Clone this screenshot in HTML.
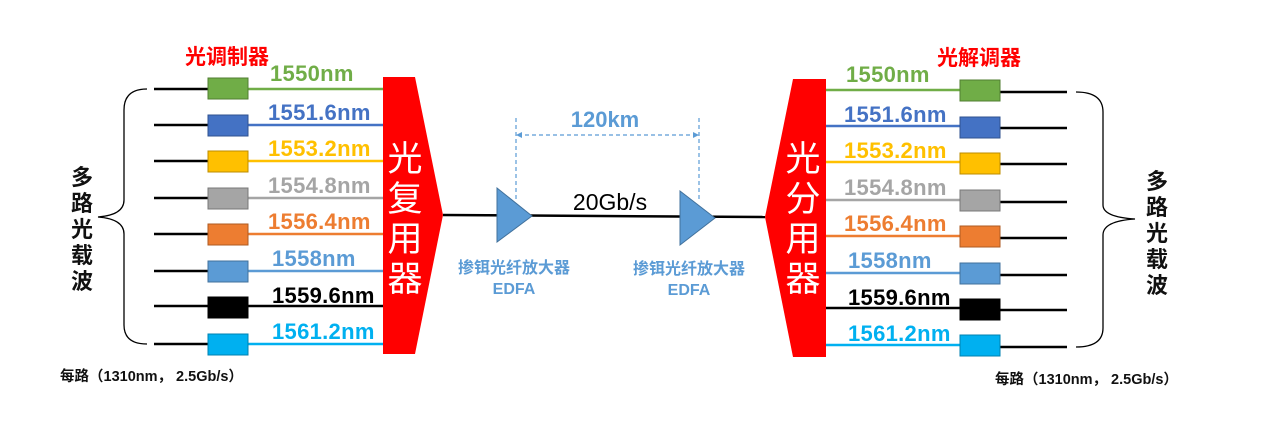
<!DOCTYPE html>
<html><head><meta charset="utf-8"><style>
html,body{margin:0;padding:0;background:#fff;width:1277px;height:429px;overflow:hidden}
svg{display:block}
.b{font-family:"Liberation Sans","Noto Sans CJK SC",sans-serif;font-weight:bold}
.c{font-family:"Noto Sans CJK SC","WenQuanYi Zen Hei",sans-serif}
</style></head><body>
<svg width="1277" height="429" viewBox="0 0 1277 429" xmlns="http://www.w3.org/2000/svg">
<!-- left side -->
<g stroke-width="2.5">
<line x1="154" y1="89" x2="208" y2="89" stroke="#000"/>
<line x1="154" y1="125" x2="208" y2="125" stroke="#000"/>
<line x1="154" y1="161" x2="208" y2="161" stroke="#000"/>
<line x1="154" y1="198" x2="208" y2="198" stroke="#000"/>
<line x1="154" y1="234" x2="208" y2="234" stroke="#000"/>
<line x1="154" y1="271" x2="208" y2="271" stroke="#000"/>
<line x1="154" y1="306" x2="208" y2="306" stroke="#000"/>
<line x1="154" y1="344" x2="208" y2="344" stroke="#000"/>
<line x1="248" y1="89" x2="384" y2="89" stroke="#70ad47"/>
<line x1="248" y1="125" x2="384" y2="125" stroke="#4472c4"/>
<line x1="248" y1="161" x2="384" y2="161" stroke="#ffc000"/>
<line x1="248" y1="198" x2="384" y2="198" stroke="#a5a5a5"/>
<line x1="248" y1="234" x2="384" y2="234" stroke="#ed7d31"/>
<line x1="248" y1="271" x2="384" y2="271" stroke="#5b9bd5"/>
<line x1="248" y1="306" x2="384" y2="306" stroke="#000"/>
<line x1="248" y1="344" x2="384" y2="344" stroke="#00b0f0"/>
</g>
<g stroke-width="1">
<rect x="208" y="78" width="40" height="21" fill="#70ad47" stroke="#507e32"/>
<rect x="208" y="115" width="40" height="21" fill="#4472c4" stroke="#2f528f"/>
<rect x="208" y="151" width="40" height="21" fill="#ffc000" stroke="#bc8c00"/>
<rect x="208" y="188" width="40" height="21" fill="#a5a5a5" stroke="#787878"/>
<rect x="208" y="224" width="40" height="21" fill="#ed7d31" stroke="#ae5a21"/>
<rect x="208" y="261" width="40" height="21" fill="#5b9bd5" stroke="#41719c"/>
<rect x="208" y="297" width="40" height="21" fill="#000" stroke="#000"/>
<rect x="208" y="334" width="40" height="21" fill="#00b0f0" stroke="#0082b0"/>
</g>
<g class="b" font-size="22" letter-spacing="0.3">
<text x="270" y="81" fill="#70ad47">1550nm</text>
<text x="268" y="120" fill="#4472c4">1551.6nm</text>
<text x="268" y="156" fill="#ffc000">1553.2nm</text>
<text x="268" y="193" fill="#a5a5a5">1554.8nm</text>
<text x="268" y="229" fill="#ed7d31">1556.4nm</text>
<text x="272" y="266" fill="#5b9bd5">1558nm</text>
<text x="272" y="303" fill="#000">1559.6nm</text>
<text x="272" y="339" fill="#00b0f0">1561.2nm</text>
</g>
<text x="185" y="64" class="b" font-size="21" fill="#ff0000">光调制器</text>
<polygon points="383,77 415,77 443,215 415,354 383,354" fill="#ff0000"/>
<g class="c" font-size="35" fill="#fff" text-anchor="middle">
<text x="405" y="171">光</text><text x="405" y="211">复</text><text x="405" y="251">用</text><text x="405" y="291">器</text>
</g>
<path d="M147,89 Q124,89 124,110 L124,200 Q124,215 98,217 Q124,219 124,234 L124,325 Q124,344 147,344" fill="none" stroke="#000" stroke-width="1.3"/>
<g class="b" font-size="22" fill="#111" text-anchor="middle">
<text x="82" y="185">多</text><text x="82" y="211">路</text><text x="82" y="237">光</text><text x="82" y="263">载</text><text x="82" y="289">波</text>
</g>
<text x="60" y="381" class="b" font-size="14.5" fill="#111">每路（1310nm， 2.5Gb/s）</text>

<!-- middle -->
<line x1="443" y1="215" x2="765" y2="217" stroke="#000" stroke-width="2.5"/>
<polygon points="497,188 532,216 497,242" fill="#5b9bd5" stroke="#41719c" stroke-width="1"/>
<polygon points="680,191 715,218 680,245" fill="#5b9bd5" stroke="#41719c" stroke-width="1"/>
<g stroke="#5b9bd5" stroke-width="1.2" stroke-dasharray="4,3" fill="none">
<line x1="516" y1="118" x2="516" y2="200"/>
<line x1="699" y1="118" x2="699" y2="200"/>
<line x1="518" y1="135" x2="697" y2="135"/>
</g>
<polygon points="516,135 522,132 522,138" fill="#5b9bd5"/>
<polygon points="699,135 693,132 693,138" fill="#5b9bd5"/>
<text x="605" y="127" class="b" font-size="22" fill="#5b9bd5" text-anchor="middle">120km</text>
<text x="610" y="210" font-family="Liberation Sans,sans-serif" font-size="23" fill="#000" text-anchor="middle">20Gb/s</text>
<g class="b" font-size="16" fill="#5b9bd5" text-anchor="middle">
<text x="514" y="273">掺铒光纤放大器</text><text x="514" y="294">EDFA</text>
<text x="689" y="274">掺铒光纤放大器</text><text x="689" y="295">EDFA</text>
</g>

<!-- right side -->
<polygon points="826,79 793,79 765,217 793,357 826,357" fill="#ff0000"/>
<g class="c" font-size="35" fill="#fff" text-anchor="middle">
<text x="803" y="171">光</text><text x="803" y="211">分</text><text x="803" y="251">用</text><text x="803" y="291">器</text>
</g>
<g stroke-width="2.5">
<line x1="826" y1="90" x2="960" y2="90" stroke="#70ad47"/>
<line x1="826" y1="126" x2="960" y2="126" stroke="#4472c4"/>
<line x1="826" y1="162" x2="960" y2="162" stroke="#ffc000"/>
<line x1="826" y1="200" x2="960" y2="200" stroke="#a5a5a5"/>
<line x1="826" y1="236" x2="960" y2="236" stroke="#ed7d31"/>
<line x1="826" y1="273" x2="960" y2="273" stroke="#5b9bd5"/>
<line x1="826" y1="308" x2="960" y2="308" stroke="#000"/>
<line x1="826" y1="345" x2="960" y2="345" stroke="#00b0f0"/>
<line x1="1000" y1="92" x2="1067" y2="92" stroke="#000"/>
<line x1="1000" y1="128" x2="1067" y2="128" stroke="#000"/>
<line x1="1000" y1="164" x2="1067" y2="164" stroke="#000"/>
<line x1="1000" y1="202" x2="1067" y2="202" stroke="#000"/>
<line x1="1000" y1="238" x2="1067" y2="238" stroke="#000"/>
<line x1="1000" y1="275" x2="1067" y2="275" stroke="#000"/>
<line x1="1000" y1="310" x2="1067" y2="310" stroke="#000"/>
<line x1="1000" y1="347" x2="1067" y2="347" stroke="#000"/>
</g>
<g stroke-width="1">
<rect x="960" y="80" width="40" height="21" fill="#70ad47" stroke="#507e32"/>
<rect x="960" y="117" width="40" height="21" fill="#4472c4" stroke="#2f528f"/>
<rect x="960" y="153" width="40" height="21" fill="#ffc000" stroke="#bc8c00"/>
<rect x="960" y="190" width="40" height="21" fill="#a5a5a5" stroke="#787878"/>
<rect x="960" y="226" width="40" height="21" fill="#ed7d31" stroke="#ae5a21"/>
<rect x="960" y="263" width="40" height="21" fill="#5b9bd5" stroke="#41719c"/>
<rect x="960" y="299" width="40" height="21" fill="#000" stroke="#000"/>
<rect x="960" y="335" width="40" height="21" fill="#00b0f0" stroke="#0082b0"/>
</g>
<g class="b" font-size="22" letter-spacing="0.3">
<text x="846" y="82" fill="#70ad47">1550nm</text>
<text x="844" y="122" fill="#4472c4">1551.6nm</text>
<text x="844" y="158" fill="#ffc000">1553.2nm</text>
<text x="844" y="195" fill="#a5a5a5">1554.8nm</text>
<text x="844" y="231" fill="#ed7d31">1556.4nm</text>
<text x="848" y="268" fill="#5b9bd5">1558nm</text>
<text x="848" y="305" fill="#000">1559.6nm</text>
<text x="848" y="341" fill="#00b0f0">1561.2nm</text>
</g>
<text x="937" y="65" class="b" font-size="21" fill="#ff0000">光解调器</text>
<path d="M1076,92 Q1103,92 1103,112 L1103,205 Q1103,217 1135,219 Q1103,221 1103,235 L1103,328 Q1103,347 1076,347" fill="none" stroke="#000" stroke-width="1.3"/>
<g class="b" font-size="22" fill="#111" text-anchor="middle">
<text x="1157" y="189">多</text><text x="1157" y="215">路</text><text x="1157" y="241">光</text><text x="1157" y="267">载</text><text x="1157" y="293">波</text>
</g>
<text x="995" y="384" class="b" font-size="14.5" fill="#111">每路（1310nm， 2.5Gb/s）</text>
</svg>
</body></html>
